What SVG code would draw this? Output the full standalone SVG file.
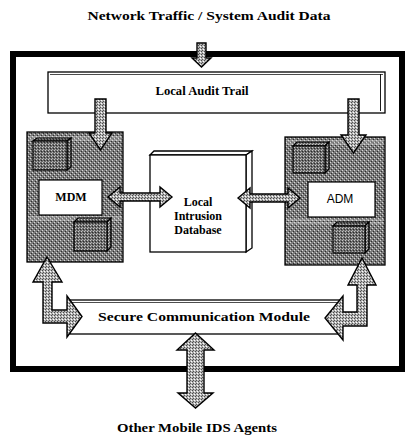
<svg xmlns="http://www.w3.org/2000/svg" width="406" height="440" viewBox="0 0 406 440">
<style>
.t{font-family:"Liberation Serif","Times New Roman",serif;font-weight:bold;fill:#000;text-anchor:middle}
.s{font-family:"Liberation Sans",Arial,sans-serif;fill:#000;text-anchor:middle}
.box{fill:#fff;stroke:#000;stroke-width:1.3}
.mod{fill:url(#dk);stroke:#000;stroke-width:1.3}
.cube{fill:url(#dk2);stroke:#000;stroke-width:1.2}
.arr{fill:url(#lt);stroke:#000;stroke-width:1.4;stroke-linejoin:miter}
</style>
<defs>
<pattern id="dk" width="4" height="4" patternUnits="userSpaceOnUse">
<rect width="4" height="4" fill="#7c7c7c"/>
<rect x="0" y="0" width="1" height="1" fill="#d8d8d8"/>
<rect x="2" y="2" width="1" height="1" fill="#d8d8d8"/>
<rect x="1" y="3" width="1" height="1" fill="#2e2e2e"/>
<rect x="3" y="1" width="1" height="1" fill="#2e2e2e"/>
</pattern>
<pattern id="dk2" width="3" height="3" patternUnits="userSpaceOnUse">
<rect width="3" height="3" fill="#6a6a6a"/>
<rect x="0" y="0" width="1" height="1" fill="#c8c8c8"/>
<rect x="2" y="1" width="1" height="1" fill="#2a2a2a"/>
<rect x="1" y="2" width="1" height="1" fill="#b0b0b0"/>
</pattern>
<pattern id="lt" width="3" height="3" patternUnits="userSpaceOnUse">
<rect width="3" height="3" fill="#b4b4b4"/>
<rect x="0" y="0" width="1" height="1" fill="#4a4a4a"/>
<rect x="2" y="1" width="1" height="1" fill="#ffffff"/>
<rect x="1" y="2" width="1" height="1" fill="#555"/>
</pattern>
</defs>
<rect width="406" height="440" fill="#fff"/>

<text class="t" x="209" y="20" font-size="13" textLength="243" lengthAdjust="spacingAndGlyphs">Network Traffic / System Audit Data</text>

<g id="frame">
<rect x="13" y="54" width="389" height="315" fill="none" stroke="#000" stroke-width="6"/>
</g>

<g id="audit-trail">
<rect class="box" x="48" y="72" width="337" height="41"/>
<line x1="50" y1="74.5" x2="383" y2="74.5" stroke="#000" stroke-width="0.7"/>
<line x1="380.5" y1="74" x2="380.5" y2="111" stroke="#000" stroke-width="0.9"/>
<text class="t" x="202" y="95" font-size="12" textLength="93" lengthAdjust="spacingAndGlyphs">Local Audit Trail</text>
</g>

<g id="mdm-module">
<rect class="mod" x="27" y="132" width="96" height="130"/>
<g stroke="#e0e0e0" stroke-width="1" opacity="0.7">
<line x1="28" y1="137" x2="122" y2="137"/>
<line x1="28" y1="140" x2="122" y2="140"/>
<line x1="28" y1="217" x2="122" y2="217"/>
<line x1="28" y1="220" x2="122" y2="220"/>
</g>
<polygon class="cube" points="33,141 37,138 71,138 67,141"/>
<polygon class="cube" points="67,141 71,138 71,167 67,170"/>
<rect class="cube" x="33" y="141" width="34" height="29"/>
<rect x="39" y="180" width="63" height="35" fill="#fff" stroke="#000" stroke-width="1.2"/>
<text class="t" x="71" y="201" font-size="12">MDM</text>
<polygon class="cube" points="74,222 78,218 111,218 107,222"/>
<polygon class="cube" points="107,222 111,218 111,247 107,251"/>
<rect class="cube" x="74" y="222" width="33" height="29"/>
</g>

<g id="adm-module">
<rect class="mod" x="285" y="137" width="100" height="128"/>
<g stroke="#e0e0e0" stroke-width="1" opacity="0.7">
<line x1="286" y1="141" x2="384" y2="141"/>
<line x1="286" y1="144" x2="384" y2="144"/>
<line x1="286" y1="220" x2="384" y2="220"/>
<line x1="286" y1="223" x2="384" y2="223"/>
</g>
<polygon class="cube" points="293,146 297,142 329,142 325,146"/>
<polygon class="cube" points="325,146 329,142 329,169 325,173"/>
<rect class="cube" x="293" y="146" width="32" height="27"/>
<rect x="308" y="182" width="67" height="35" fill="#fff" stroke="#000" stroke-width="1.2"/>
<text class="s" x="340" y="203" font-size="12">ADM</text>
<polygon class="cube" points="333,226 337,222 369,222 365,226"/>
<polygon class="cube" points="365,226 369,222 369,249 365,253"/>
<rect class="cube" x="333" y="226" width="32" height="27"/>
</g>

<g id="intrusion-db">
<polygon class="box" points="150,155 154,151 252,151 246,155"/>
<polygon class="box" points="246,155 252,151 252,248 246,252"/>
<rect class="box" x="150" y="155" width="96" height="97"/>
<text class="t" font-size="12"><tspan x="198" y="206">Local</tspan><tspan x="198" y="220">Intrusion</tspan><tspan x="198" y="234">Database</tspan></text>
</g>

<g id="secure-comm">
<rect class="box" x="70" y="300" width="270" height="34"/>
<line x1="72" y1="302.5" x2="338" y2="302.5" stroke="#000" stroke-width="0.7"/>
<text class="t" x="204" y="321" font-size="13" textLength="212" lengthAdjust="spacingAndGlyphs">Secure Communication Module</text>
</g>

<g id="connectors">
<polygon class="arr" points="197,43 206,43 206,58 211,58 201.5,67 192,58 197,58"/>
<polygon class="arr" points="95,99 106,99 106,133 112,133 100.5,150 89,133 95,133"/>
<polygon class="arr" points="348,99 359,99 359,135 366,135 353.5,153 341,135 348,135"/>
<polygon class="arr" points="108,197 120,187 120,193 160,193 160,187 172,197 160,207 160,201 120,201 120,207"/>
<polygon class="arr" points="238,198 250,188 250,194 288,194 288,188 300,198 288,208 288,202 250,202 250,208"/>
<polygon class="arr" points="47,257 62,282 52,282 52,310 67,310 67,296 82,316.5 67,337 67,323 43,323 43,282 33,282"/>
<polygon class="arr" points="362,258 376,285 367,285 367,326 343,326 343,340 325,318 343,296 343,312 357,312 357,285 348,285"/>
<polygon class="arr" points="195.5,333 214,350 204,350 204,393 213,393 195.5,408 178,393 187,393 187,350 177,350"/>
</g>

<text class="t" x="197" y="432" font-size="12" textLength="160" lengthAdjust="spacingAndGlyphs">Other Mobile IDS Agents</text>
</svg>
